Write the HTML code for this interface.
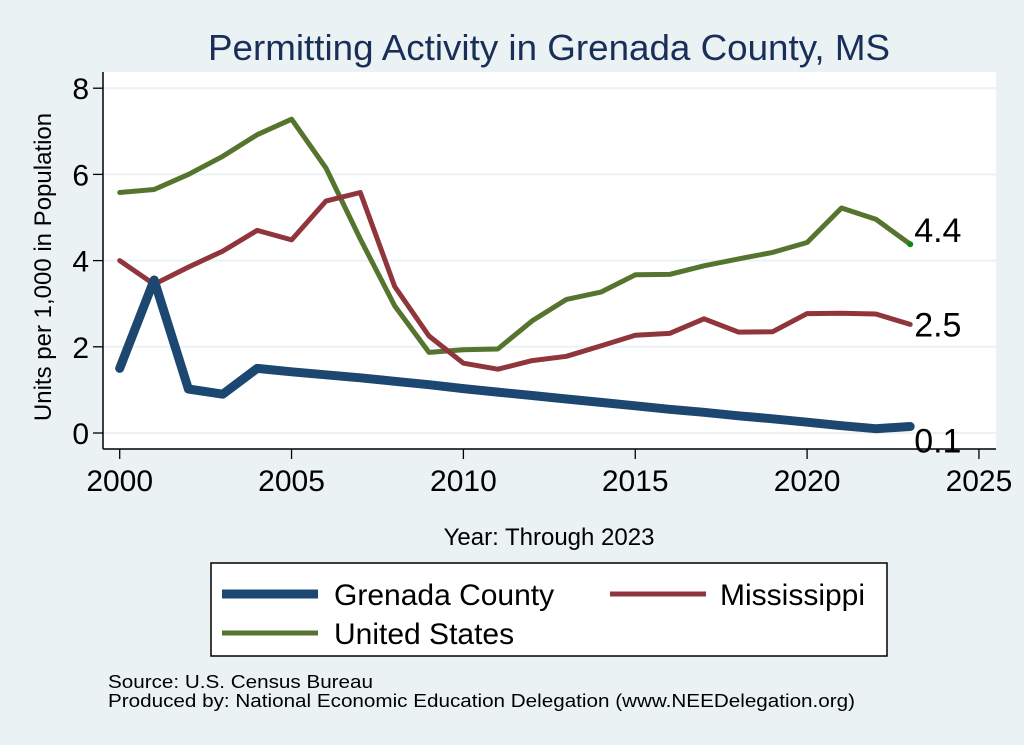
<!DOCTYPE html>
<html><head><meta charset="utf-8"><style>
body{margin:0;background:#eaf2f3;}
svg{display:block;font-family:"Liberation Sans",sans-serif;}
</style></head><body>
<svg id="chart" width="1024" height="745" viewBox="0 0 1024 745">
<rect x="0" y="0" width="1024" height="745" fill="#eaf2f3"/>
<text x="208" y="60" font-size="36" fill="#1a2e5a" textLength="682" lengthAdjust="spacingAndGlyphs">Permitting Activity in Grenada County, MS</text>
<rect x="103" y="72" width="893" height="377" fill="#fff"/>
<g id="grid"></g>
<g id="axes"></g>
<g id="lines"></g>
<text transform="translate(51,267) rotate(-90)" font-size="24" text-anchor="middle" fill="#000">Units per 1,000 in Population</text>
<text x="549" y="545" font-size="24" text-anchor="middle" fill="#000">Year: Through 2023</text>
<g>
<rect x="211" y="563" width="676" height="93" fill="#fff" stroke="#000" stroke-width="1.5"/>
<line x1="222" y1="594" x2="318" y2="594" stroke="#1b4770" stroke-width="9"/>
<text x="334" y="605" font-size="30">Grenada County</text>
<line x1="610" y1="594" x2="706" y2="594" stroke="#90353b" stroke-width="5"/>
<text x="720" y="605" font-size="30">Mississippi</text>
<line x1="222" y1="633" x2="318" y2="633" stroke="#55752f" stroke-width="5"/>
<text x="334" y="644" font-size="30">United States</text>
</g>
<text x="108" y="688" font-size="18" textLength="265" lengthAdjust="spacingAndGlyphs">Source: U.S. Census Bureau</text>
<text x="108" y="707" font-size="18" textLength="747" lengthAdjust="spacingAndGlyphs">Produced by: National Economic Education Delegation (www.NEEDelegation.org)</text>
</svg>
<script>
const years=[2000,2001,2002,2003,2004,2005,2006,2007,2008,2009,2010,2011,2012,2013,2014,2015,2016,2017,2018,2019,2020,2021,2022,2023];
const grenada=[1.5,3.55,1.02,0.9,1.5,1.42,1.35,1.28,1.2,1.12,1.03,0.95,0.87,0.79,0.71,0.63,0.55,0.48,0.4,0.33,0.25,0.17,0.1,0.15];
const mississippi=[4.0,3.45,3.85,4.22,4.7,4.48,5.38,5.58,3.4,2.25,1.62,1.48,1.68,1.78,2.02,2.27,2.31,2.65,2.34,2.35,2.77,2.78,2.76,2.52];
const unitedStates=[5.58,5.65,6.0,6.42,6.92,7.28,6.15,4.5,2.95,1.87,1.93,1.95,2.6,3.1,3.27,3.67,3.68,3.88,4.04,4.19,4.42,5.22,4.96,4.38];
const yTicks=[0,2,4,6,8];
const xTicks=[2000,2005,2010,2015,2020,2025];
const endLabels=["0.1","2.5","4.4"];
const NS="http://www.w3.org/2000/svg";
const xs=y=>119.7+(y-2000)*34.37;
const ys=v=>433-v*43.1;
function mk(tag,attrs,parent,text){const e=document.createElementNS(NS,tag);for(const k in attrs)e.setAttribute(k,attrs[k]);if(text!==undefined)e.textContent=text;document.getElementById(parent).appendChild(e);return e;}
yTicks.forEach(t=>{
  const g=mk('line',{x1:103,x2:996,y1:ys(t),y2:ys(t),stroke:'#eaf2f3','stroke-width':2},'grid');
  
  
  const tk=mk('line',{x1:93,x2:103,y1:ys(t),y2:ys(t),stroke:'#000','stroke-width':1.3},'axes');
  
  
  const lb=mk('text',{x:89,y:ys(t)+11,'font-size':30,'text-anchor':'end'},'axes',String(t));
  
  
});
xTicks.forEach(t=>{
  const tk=mk('line',{x1:xs(t),x2:xs(t),y1:449,y2:459,stroke:'#000','stroke-width':1.3},'axes');
  
  
  const lb=mk('text',{x:xs(t),y:491,'font-size':30,'text-anchor':'middle'},'axes',String(t));
  
  
});
const ya=mk('line',{x1:103,x2:103,y1:72,y2:449,stroke:'#000','stroke-width':1.5},'axes');


const xa=mk('line',{x1:103,x2:996,y1:449,y2:449,stroke:'#000','stroke-width':1.5},'axes');


function series(vals,color,w,name){
  const d=vals.map((v,i)=>(i?'L':'M')+xs(years[i]).toFixed(1)+','+ys(v).toFixed(1)).join(' ');
  const p=mk('path',{d:d,fill:'none',stroke:color,'stroke-width':w,'stroke-linejoin':'round','stroke-linecap':'round'},'lines');
  
  
}
series(unitedStates,'#55752f',5,'line-united-states');
series(mississippi,'#90353b',5,'line-mississippi');
series(grenada,'#1b4770',9,'line-grenada-county');
const last=years.length-1;
const dot=mk('circle',{cx:xs(years[last]),cy:ys(unitedStates[last]),r:3,fill:'#0a8a0a'},'lines');


[[grenada,0,'end-label-grenada',26],[mississippi,1,'end-label-mississippi',12],[unitedStates,2,'end-label-us',-2]].forEach(([arr,i,n,off])=>{
  const t=mk('text',{x:xs(years[last])+4,y:ys(arr[last])+off,'font-size':34},'lines',endLabels[i]);
  
  
});
</script>
</body></html>
